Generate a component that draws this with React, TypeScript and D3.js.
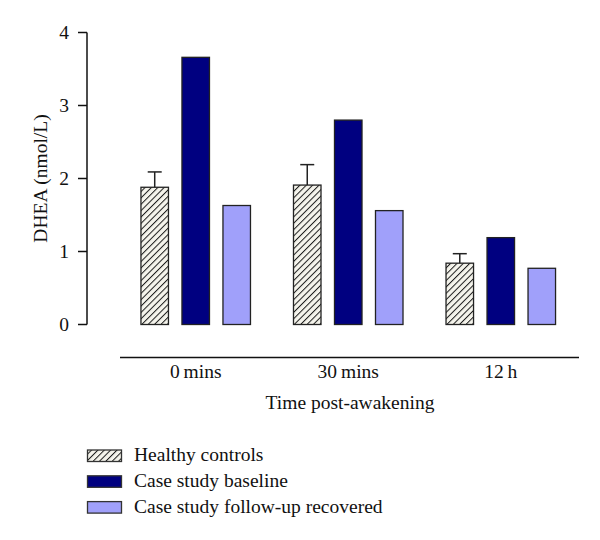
import React from "react";
import * as d3 from "d3";

const categories = ["0 mins", "30 mins", "12 h"];
const seriesNames = ["Healthy controls", "Case study baseline", "Case study follow-up recovered"];
const healthy = [1.88, 1.91, 0.84];
const healthyErr = [0.21, 0.28, 0.13];
const baseline = [3.66, 2.8, 1.19];
const recovered = [1.63, 1.56, 0.77];
const yTicks = [0, 1, 2, 3, 4];

const FONT = "'Liberation Serif', 'Times New Roman', serif";
const FS = 19.5;

export default function App() {
  const W = 600, H = 540;
  const y = d3.scaleLinear().domain([0, 4]).range([324.5, 32.5]);
  const x0 = d3.scaleBand<string>().domain(categories).range([119.6, 576.9]).paddingInner(0.282).paddingOuter(0.14);
  const x1 = d3.scaleBand<string>().domain(seriesNames).range([0, x0.bandwidth()]).paddingInner(0.329).paddingOuter(0);
  const values = [healthy, baseline, recovered];
  const fills = ["url(#hatch)", "#000080", "#a0a0fa"];
  const bw = x1.bandwidth();

  return (
    <svg width={W} height={H} style={{ display: "block", position: "absolute", left: 0, top: 0 }} fontFamily={FONT}>
      <defs>
        <pattern id="hatch" patternUnits="userSpaceOnUse" width="4.5" height="4.5" patternTransform="rotate(45)">
          <rect width="4.5" height="4.5" fill="#f5f4ec" />
          <line x1="0" y1="0" x2="0" y2="4.5" stroke="#1a1a1a" strokeWidth="2" />
        </pattern>
      </defs>
      <rect width={W} height={H} fill="#fff" />
      {/* y axis */}
      <line x1={87} x2={87} y1={y(4)} y2={y(0)} stroke="#111" strokeWidth={1.5} />
      {yTicks.map((t) => (
        <g key={t}>
          <line x1={78} x2={87} y1={y(t)} y2={y(t)} stroke="#111" strokeWidth={1.5} />
          <text x={69} y={y(t)} dy="0.35em" textAnchor="end" fontSize={FS} fill="#111">{t}</text>
        </g>
      ))}
      <text transform={`translate(47,${y(2)}) rotate(-90)`} textAnchor="middle" fontSize={FS} fill="#111">DHEA (nmol/L)</text>
      {/* bars */}
      {categories.map((c, i) => (
        <g key={c} transform={`translate(${x0(c)},0)`}>
          {seriesNames.map((s, j) => (
            <rect key={s} x={x1(s)} y={y(values[j][i])} width={bw} height={y(0) - y(values[j][i])}
              fill={fills[j]} stroke="#222" strokeWidth={1.3} />
          ))}
          <line x1={(x1(seriesNames[0]) as number) + bw / 2} x2={(x1(seriesNames[0]) as number) + bw / 2}
            y1={y(healthy[i])} y2={y(healthy[i] + healthyErr[i])} stroke="#222" strokeWidth={1.5} />
          <line x1={(x1(seriesNames[0]) as number) + bw / 2 - 7} x2={(x1(seriesNames[0]) as number) + bw / 2 + 7}
            y1={y(healthy[i] + healthyErr[i])} y2={y(healthy[i] + healthyErr[i])} stroke="#222" strokeWidth={1.5} />
        </g>
      ))}
      {/* x axis */}
      <line x1={120} x2={579} y1={357.5} y2={357.5} stroke="#111" strokeWidth={1.5} />
      {categories.map((c) => (
        <text key={c} x={(x0(c) as number) + x0.bandwidth() / 2} y={378} textAnchor="middle" fontSize={FS} fill="#111">
          {c.replace(" ", "\u2009")}
        </text>
      ))}
      <text x={350} y={409} textAnchor="middle" fontSize={FS} fill="#111">Time post-awakening</text>
      {/* legend */}
      {seriesNames.map((s, j) => (
        <g key={s} transform={`translate(0,${j * 25.8})`}>
          <rect x={87.5} y={450} width={34} height={11.5} fill={fills[j]} stroke="#333" strokeWidth={1.3} />
          <text x={134} y={461} fontSize={FS} fill="#111">{s}</text>
        </g>
      ))}
    </svg>
  );
}
